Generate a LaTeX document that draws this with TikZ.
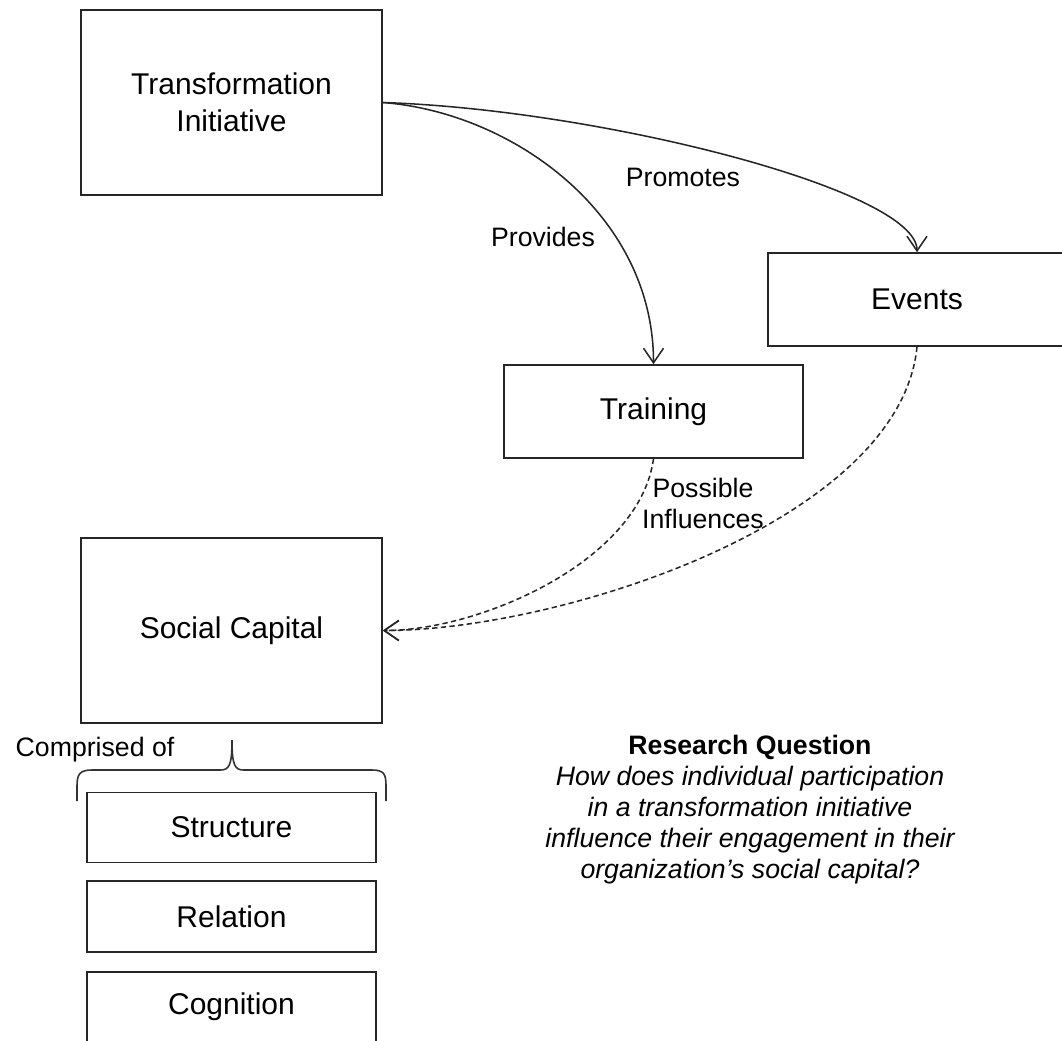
\documentclass[tikz,border=0pt]{standalone}
\usepackage{fontspec}
\setmainfont{Liberation Sans}
\usetikzlibrary{arrows.meta}
\begin{document}
\begin{tikzpicture}[x=0.75pt,y=-0.75pt,
  box/.style={draw=black!85, line width=1.2pt, inner sep=0pt, align=center,
    font=\fontsize{22.5}{27.75}\selectfont},
  lbl/.style={font=\fontsize{20}{23.25}\selectfont, align=center, inner sep=0pt},
  arr/.style={draw=black!85, line width=1.15pt, -{Straight Barb[length=11pt,width=15pt]}},
  darr/.style={arr, dash pattern=on 4pt off 2.5pt}]
\useasboundingbox (0,0) rectangle (1062,1040);
\node[box, minimum width=225.75pt, minimum height=138.75pt] (ti) at (231.5,102.5) {Transformation\\Initiative};
\node[box, minimum width=223.5pt, minimum height=69.75pt] (ev) at (917,299.5) {Events};
\node[box, minimum width=224.25pt, minimum height=69.75pt] (tr) at (653.5,411.5) {Training};
\node[box, minimum width=225.75pt, minimum height=138.75pt] (sc) at (231.5,630.5) {Social Capital};
\node[box, minimum width=216.75pt, minimum height=52.5pt] (st) at (231.5,827.5) {Structure};
\node[box, minimum width=216.75pt, minimum height=53.25pt] (re) at (231.5,916.5) {Relation};
\node[box, minimum width=216.75pt, minimum height=52.5pt] (co) at (231.5,1007) {Cognition};

\draw[arr] (ti.east) .. controls +(130,10) and +(0,-150) .. (tr.north);
\draw[arr] (ti.east) .. controls +(218,7) and +(0,-62) .. (ev.north);
\draw[darr] (tr.south) .. controls +(-14,102) and +(98,0) .. (sc.east);
\draw[darr] (ev.south) .. controls +(-17,174) and +(178,0) .. (sc.east);

\node[lbl] (lprov) at (543,237) {Provides};
\node[lbl] (lprom) at (683,177) {Promotes};
\node[lbl] (lposs) at (703,503) {Possible\\Influences};

\node[lbl] (comp) at (95,750) {Comprised of};
\draw[draw=black!80, line width=1.2pt]
  (77,801) -- (77,786) .. controls (77,774) and (80,770) .. (92,770)
  -- (220,770) .. controls (229,770) and (232,766) .. (232,740)
  .. controls (232,766) and (235,770) .. (244,770)
  -- (372,770) .. controls (384,770) and (386,774) .. (386,786) -- (386,801);

\node[lbl] (rq) at (750,810) {\textbf{Research Question}\\\itshape How does individual participation\\\itshape in a transformation initiative\\\itshape influence their engagement in their\\\itshape organization’s social capital?};
\end{tikzpicture}
\end{document}
